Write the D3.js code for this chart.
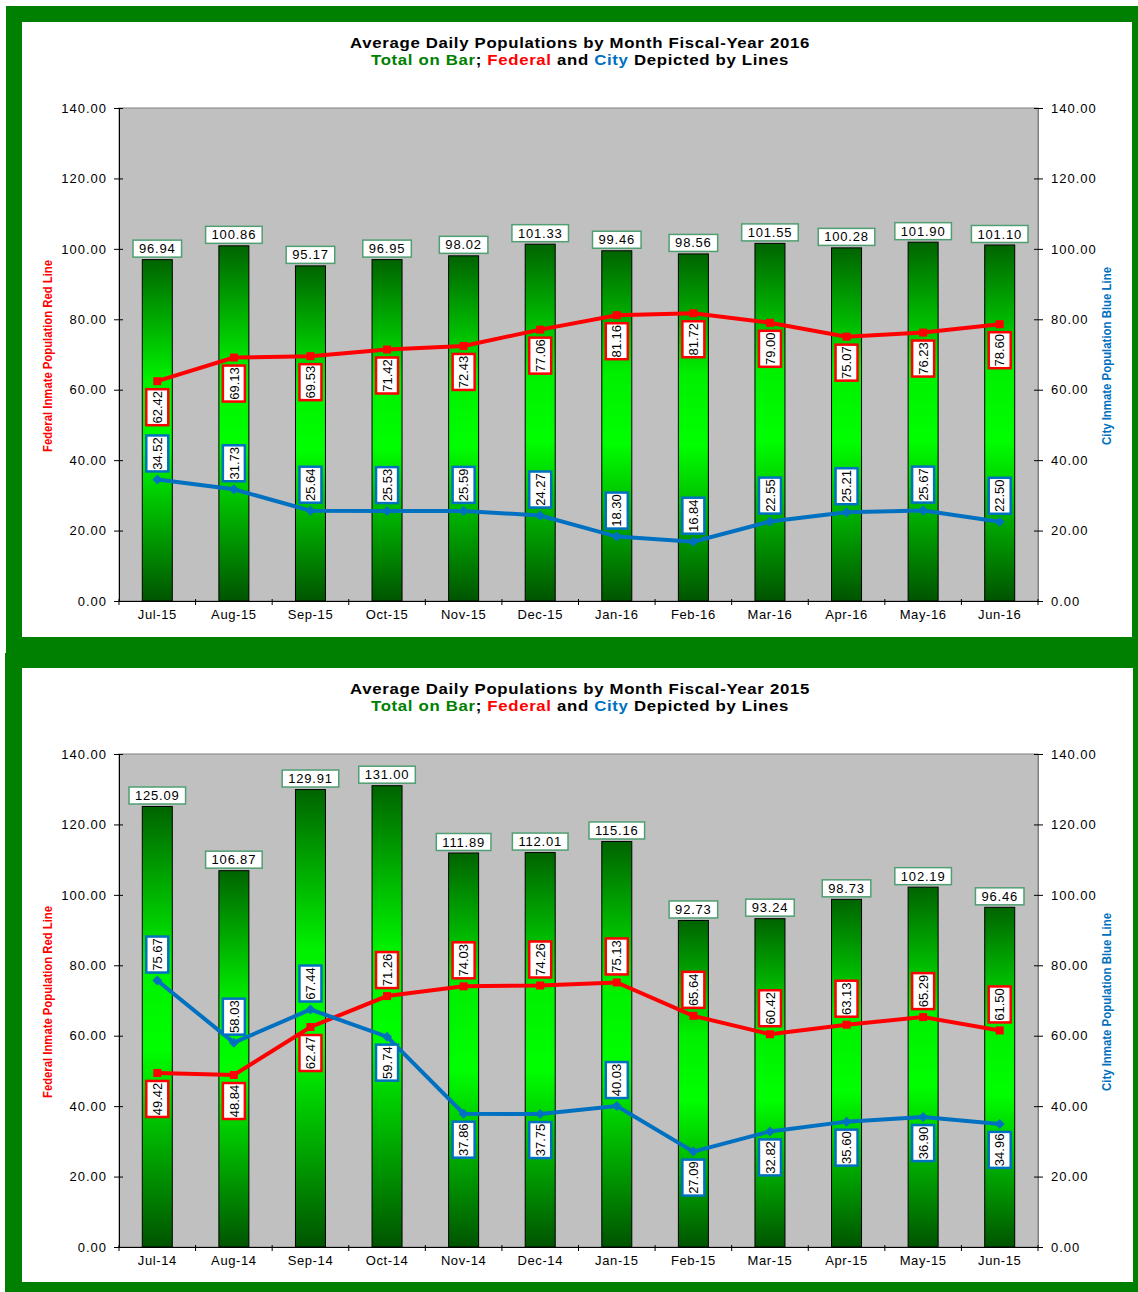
<!DOCTYPE html>
<html>
<head>
<meta charset="utf-8">
<script src="https://cdn.jsdelivr.net/npm/d3@7"></script>
<style>
  body { margin: 0; background: #fff; }
  text { font-family: "Liberation Sans", Arial, sans-serif; }
</style>
</head>
<body>
<svg id="chart" width="1138" height="1292"></svg>
<script>
// FY 2016
const months2016  = ["Jul-15", "Aug-15", "Sep-15", "Oct-15", "Nov-15", "Dec-15", "Jan-16", "Feb-16", "Mar-16", "Apr-16", "May-16", "Jun-16"];
const total2016   = [96.94, 100.86, 95.17, 96.95, 98.02, 101.33, 99.46, 98.56, 101.55, 100.28, 101.90, 101.10];
const federal2016 = [62.42, 69.13, 69.53, 71.42, 72.43, 77.06, 81.16, 81.72, 79.00, 75.07, 76.23, 78.60];
const city2016    = [34.52, 31.73, 25.64, 25.53, 25.59, 24.27, 18.30, 16.84, 22.55, 25.21, 25.67, 22.50];

// FY 2015
const months2015  = ["Jul-14", "Aug-14", "Sep-14", "Oct-14", "Nov-14", "Dec-14", "Jan-15", "Feb-15", "Mar-15", "Apr-15", "May-15", "Jun-15"];
const total2015   = [125.09, 106.87, 129.91, 131.00, 111.89, 112.01, 115.16, 92.73, 93.24, 98.73, 102.19, 96.46];
const federal2015 = [49.42, 48.84, 62.47, 71.26, 74.03, 74.26, 75.13, 65.64, 60.42, 63.13, 65.29, 61.50];
const city2015    = [75.67, 58.03, 67.44, 59.74, 37.86, 37.75, 40.03, 27.09, 32.82, 35.60, 36.90, 34.96];

// y-axis ticks
const yTicks = [0, 20, 40, 60, 80, 100, 120, 140];

// label side for line values: 1 = below the point, -1 = above
const fedSide2016  = [1, 1, 1, 1, 1, 1, 1, 1, 1, 1, 1, 1];
const citySide2016 = [-1, -1, -1, -1, -1, -1, -1, -1, -1, -1, -1, -1];
const fedSide2015  = [1, 1, 1, -1, -1, -1, -1, -1, -1, -1, -1, -1];
const citySide2015 = [-1, -1, -1, 1, 1, 1, -1, 1, 1, 1, 1, 1];

const RED = "#ff0000", BLUE = "#0070c0", GREEN = "#008000";

const svg = d3.select("#chart");

// bar gradient: dark top, bright middle, dark bottom
const grad = svg.append("defs").append("linearGradient")
    .attr("id", "barFill")
    .attr("x1", 0).attr("y1", 0).attr("x2", 0).attr("y2", 1);
grad.append("stop").attr("offset", "0%").attr("stop-color", "#006400");
grad.append("stop").attr("offset", "35%").attr("stop-color", "#00f000");
grad.append("stop").attr("offset", "55%").attr("stop-color", "#00ff00");
grad.append("stop").attr("offset", "100%").attr("stop-color", "#005400");

// green frames
svg.append("rect").attr("x", 6).attr("y", 6).attr("width", 1132).attr("height", 647).attr("fill", GREEN);
svg.append("rect").attr("x", 5).attr("y", 653).attr("width", 1133).attr("height", 639).attr("fill", GREEN);
svg.append("rect").attr("x", 22).attr("y", 22).attr("width", 1110).attr("height", 615).attr("fill", "#fff");
svg.append("rect").attr("x", 22).attr("y", 668).attr("width", 1111).attr("height", 614).attr("fill", "#fff");

function drawChart(top, year, months, totals, federal, city, fedSide, citySide) {
    let g = svg.append("g").attr("transform", "translate(0," + top + ")");

    let x = d3.scaleBand().domain(months).range([119, 1038]);
    let y = d3.scaleLinear().domain([0, 140]).range([601, 108]);
    let cx = d => x(d) + x.bandwidth() / 2;

    // title (the original is stretched a little sideways)
    let tg = g.append("g").attr("transform", "translate(580,0) scale(1.12,1)");
    tg.append("text")
        .attr("x", 0).attr("y", 48)
        .attr("text-anchor", "middle")
        .attr("font-size", "15px").attr("font-weight", "bold")
        .attr("letter-spacing", "0.6px")
        .text("Average Daily Populations by Month Fiscal-Year " + year);
    let sub = tg.append("text")
        .attr("x", 0).attr("y", 65)
        .attr("text-anchor", "middle")
        .attr("font-size", "15px").attr("font-weight", "bold")
        .attr("letter-spacing", "0.6px");
    [["Total on Bar", GREEN], ["; ", "#000"], ["Federal", RED], [" and ", "#000"],
     ["City", BLUE], [" Depicted by Lines", "#000"]].forEach(p => {
        sub.append("tspan").attr("fill", p[1]).text(p[0]);
    });

    // plot area
    g.append("rect")
        .attr("x", 119).attr("y", 108)
        .attr("width", 919).attr("height", 493)
        .attr("fill", "#c0c0c0")
        .attr("stroke", "#808080").attr("stroke-width", 1);

    // left axis
    let left = g.append("g").attr("transform", "translate(119,0)")
        .call(d3.axisLeft(y).tickValues(yTicks).tickFormat(d3.format(".2f")).tickSize(5).tickPadding(7));
    left.select(".domain").attr("stroke", "#000");
    left.selectAll(".tick line").attr("x2", -5).attr("x1", 4);
    left.selectAll(".tick text").attr("font-size", "13px").attr("letter-spacing", "1px")
        .attr("font-family", "Liberation Sans, Arial, sans-serif").attr("fill", "#000");

    // right axis
    let right = g.append("g").attr("transform", "translate(1038,0)")
        .call(d3.axisRight(y).tickValues(yTicks).tickFormat(d3.format(".2f")).tickSize(5).tickPadding(8));
    right.select(".domain").attr("stroke", "#808080");
    right.selectAll(".tick line").attr("x1", -4);
    right.selectAll(".tick text").attr("font-size", "13px").attr("letter-spacing", "1px")
        .attr("font-family", "Liberation Sans, Arial, sans-serif").attr("fill", "#000");

    // bottom axis, labels at centres, ticks at band edges
    let bottom = g.append("g").attr("transform", "translate(0,601)")
        .call(d3.axisBottom(x).tickSize(0).tickPadding(9));
    bottom.select(".domain").attr("stroke", "#000");
    bottom.selectAll(".tick text").attr("font-size", "13px").attr("letter-spacing", "0.6px")
        .attr("font-family", "Liberation Sans, Arial, sans-serif").attr("fill", "#000");
    bottom.selectAll(".edge")
        .data(d3.range(months.length + 1))
        .enter().append("line")
        .attr("class", "edge")
        .attr("x1", i => 119 + i * x.step()).attr("x2", i => 119 + i * x.step())
        .attr("y1", -2).attr("y2", 4)
        .attr("stroke", "#000");

    // axis titles
    g.append("text")
        .attr("transform", "translate(52,356) rotate(-90)")
        .attr("text-anchor", "middle")
        .attr("font-family", "Liberation Sans Narrow, Arial Narrow, sans-serif")
        .attr("font-size", "13px").attr("font-weight", "bold")
        .attr("fill", RED)
        .attr("textLength", 192).attr("lengthAdjust", "spacingAndGlyphs")
        .text("Federal Inmate Population Red Line");
    g.append("text")
        .attr("transform", "translate(1111,356) rotate(-90)")
        .attr("text-anchor", "middle")
        .attr("font-family", "Liberation Sans Narrow, Arial Narrow, sans-serif")
        .attr("font-size", "13px").attr("font-weight", "bold")
        .attr("fill", BLUE)
        .attr("textLength", 178).attr("lengthAdjust", "spacingAndGlyphs")
        .text("City Inmate Population Blue Line");

    // bars
    let w = 30;
    g.selectAll(".bar")
        .data(months)
        .enter().append("rect")
        .attr("class", "bar")
        .attr("x", d => cx(d) - w / 2)
        .attr("y", (d, i) => y(totals[i]))
        .attr("width", w)
        .attr("height", (d, i) => y(0) - y(totals[i]))
        .attr("fill", "url(#barFill)")
        .attr("stroke", "#000").attr("stroke-width", 1);

    // bar totals
    months.forEach((m, i) => {
        let lg = g.append("g").attr("transform", "translate(" + cx(m) + "," + (y(totals[i]) - 11) + ")");
        let box = lg.append("rect");
        let t = lg.append("text")
            .attr("text-anchor", "middle").attr("dy", "0.35em")
            .attr("font-size", "13px").attr("letter-spacing", "0.8px")
            .text(d3.format(".2f")(totals[i]));
        let tw = t.node().getComputedTextLength();
        box.attr("x", -tw / 2 - 6).attr("y", -8.5)
            .attr("width", tw + 12).attr("height", 17)
            .attr("fill", "#fff").attr("stroke", "#4f9f72").attr("stroke-width", 1.5);
    });

    // lines
    let line = d3.line().x((d, i) => cx(months[i])).y(d => y(d));
    g.append("path").datum(federal).attr("d", line)
        .attr("fill", "none").attr("stroke", RED).attr("stroke-width", 4);
    g.append("path").datum(city).attr("d", line)
        .attr("fill", "none").attr("stroke", BLUE).attr("stroke-width", 4);

    g.selectAll(".fedpt").data(federal).enter().append("rect")
        .attr("class", "fedpt")
        .attr("x", (d, i) => cx(months[i]) - 4).attr("y", d => y(d) - 4)
        .attr("width", 8).attr("height", 8).attr("fill", RED);
    g.selectAll(".citypt").data(city).enter().append("path")
        .attr("class", "citypt")
        .attr("d", d3.symbol().type(d3.symbolSquare).size(50))
        .attr("transform", (d, i) => "translate(" + cx(months[i]) + "," + y(d) + ") rotate(45)")
        .attr("fill", BLUE);

    // rotated value labels on the lines
    function valueLabels(values, sides, color) {
        values.forEach((v, i) => {
            let cy = y(v) + sides[i] * 26;
            let lg = g.append("g").attr("transform", "translate(" + cx(months[i]) + "," + cy + ") rotate(-90)");
            lg.append("rect")
                .attr("x", -18).attr("y", -11)
                .attr("width", 36).attr("height", 22)
                .attr("fill", "#fff").attr("stroke", color).attr("stroke-width", 2.5);
            lg.append("text")
                .attr("text-anchor", "middle").attr("dy", "0.36em")
                .attr("font-size", "13px")
                .text(d3.format(".2f")(v));
        });
    }
    valueLabels(federal, fedSide, RED);
    valueLabels(city, citySide, BLUE);
}

drawChart(0, 2016, months2016, total2016, federal2016, city2016, fedSide2016, citySide2016);
drawChart(646, 2015, months2015, total2015, federal2015, city2015, fedSide2015, citySide2015);
</script>
</body>
</html>
